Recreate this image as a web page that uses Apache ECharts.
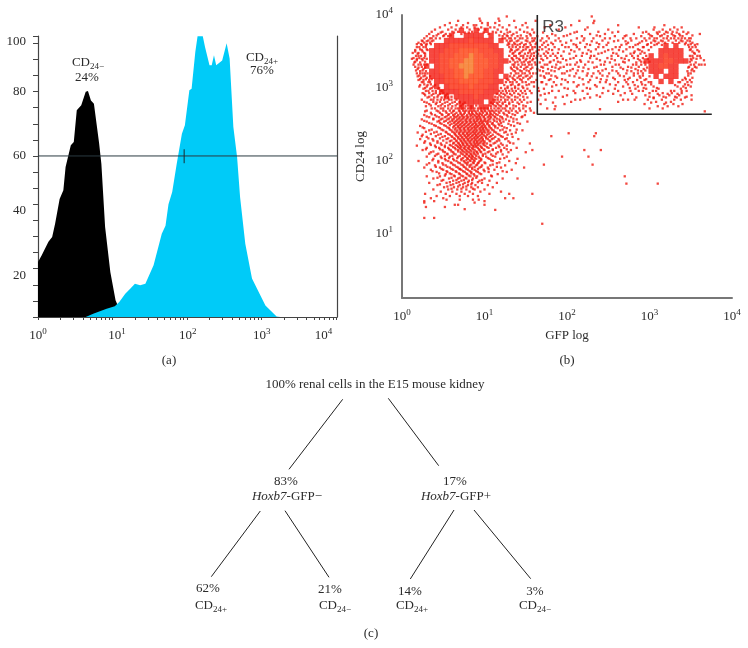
<!DOCTYPE html>
<html><head><meta charset="utf-8">
<style>html,body{margin:0;padding:0;background:#fff}#c{width:748px;height:648px;filter:blur(0.35px)}</style>
<script src="https://cdn.jsdelivr.net/npm/echarts@6/dist/echarts.min.js"></script>
</head><body><div id="c"></div>
<script>
// ---------- Panel (a): histogram, x in log10 decades, y in counts ----------
const yTickLabelsA = [20, 40, 60, 80, 100];
const xDecades = [0, 1, 2, 3, 4];
const negGfpLog = [0,.05,.14,.19,.23,.29,.34,.37,.44,.48,.52,.58,.64,.67,.71,.75,.82,.85,.90,.97,1.04,1.07,1.08];
const negCount = [20.5,23,28,29.8,34.8,44,47.2,55.9,64,65.2,77,78.9,83.9,84.2,80.7,79.5,64.6,57,33.5,16.8,6.2,4.3,0];
const posGfpLog = [.64,.74,.92,1.03,1.09,1.17,1.24,1.30,1.37,1.44,1.55,1.66,1.71,1.75,1.80,1.86,1.93,1.97,2.03,2.06,2.11,2.14,2.21,2.24,2.30,2.33,2.36,2.39,2.47,2.53,2.57,2.62,2.67,2.71,2.78,2.87,2.96,3.05,3.20,3.25];
const posCount = [0,1.2,3.1,4,5.6,8.7,10.6,12.4,11.8,12.4,19.3,31,34,42,46.6,57,68.3,71.4,84.5,85,98.8,104.6,104.6,100.6,93.8,93.8,97.5,93.8,95.6,102,96.3,70.8,59.6,44.7,27.3,14.3,9.3,4.3,.2,0];
const gateCount = 60;
const gateMarker = 1.96;

// ---------- Panel (b): dot plot, log10 decades x100 ----------
const cd24Rows = [398,395,392,389,386,383,380,377,374,371,368,365,362,359,356,353,350,347,344,341,338,335,332,329,326,323,320,317,314,311,308,305,302,299,296,293,290,287,284,281,278,275,272,269,266,263,260,257,254,251,248,245,242,239,236,233,230,227,224,221,218,215,212,209,206,203,200,197,194,191,188,185,182,179,176,173,170,167,164,161,158,155,152,149,147,145,143,140,137,134,133,122,114,238,234,215,206,195,189,179,169,286,284,271,268,277,249];
const gfpRows = [
[127,230],[94,117],[68,95,118,136,162,215,233],[58,80,97,104,113,150,232],
[52,66,74,87,90,104,118,130,146,180,205,262,318],
[46,60,72,79,88,96,107,112,122,138,152,173,198,225,287,306,330,339],
[40,56,65,82,93,101,116,127,143,158,190,222,250,305,316,325,334],
[36,49,61,68,85,110,120,131,148,212,238,262,296,312,320,328,341],
[33,44,53,72,105,124,135,155,182,204,228,246,281,299,310,318,327,336,345,361],
[30,38,50,56,122,128,140,151,164,176,196,218,240,258,270,290,303,313,322,331,340],
[27,34,46,122,130,137,146,158,170,190,212,232,252,268,284,300,309,317,326,335,343,350],
[24,32,38,127,133,141,150,160,168,186,205,220,243,262,278,296,305,314,323,332,338,346],
[20,27,34,129,136,145,155,163,172,181,199,216,236,250,274,288,302,311,319,328,336,344,352],
[24,29,128,134,140,148,156,170,177,194,211,228,248,266,283,297,306,315,347,355],
[18,26,130,138,147,153,161,167,185,202,222,244,264,280,292,348,356],
[22,30,132,141,150,158,170,178,190,215,235,255,272,286,350],
[16,25,131,137,145,155,163,175,196,209,229,246,268,282,291,352,360],
[19,28,134,142,149,157,165,172,183,203,224,238,260,277,289,355],
[17,23,136,144,152,160,168,180,193,218,233,254,272,286,349,358],
[14,21,27,133,139,147,155,163,176,188,208,228,249,266,281,292,353,362],
[18,25,135,143,150,158,171,184,199,216,240,258,275,288,351,366],
[15,22,137,145,153,161,167,179,192,212,231,252,270,284,294,356],
[20,27,134,141,149,157,173,187,204,222,245,263,280,290,350,360,367],
[16,24,136,144,152,169,182,196,214,236,255,274,287,348,355],
[19,26,133,140,148,156,164,177,190,207,226,247,268,283,293,352],
[22,29,137,145,154,171,185,200,219,238,260,278,290,346,354],
[18,25,31,132,141,149,159,175,194,211,232,251,272,286,350],
[21,28,136,144,152,168,181,203,224,243,264,281,292,347],
[23,30,134,140,147,155,173,188,215,236,256,276,289,343,352],
[20,26,33,129,137,145,163,178,198,228,248,270,285,294,340,349],
[24,32,131,139,150,157,169,184,208,240,262,280,299,337,346],
[27,35,134,142,154,175,193,220,252,274,291,302,343],
[21,30,38,128,137,146,160,182,212,236,268,286,305,334,341,350],
[26,34,44,125,133,141,152,172,201,228,258,283,296,311,338],
[29,37,47,122,130,138,149,166,190,219,250,277,292,308,330,345],
[25,33,41,50,120,127,136,146,157,178,210,243,270,300,316,327,339],
[28,36,44,53,118,125,133,143,168,200,236,265,295,312,324,336,351],
[31,39,48,56,116,123,130,140,152,186,228,284,305,320,333,343],
[24,35,43,51,60,113,120,128,137,148,174,216,274,298,315,330,338],
[27,38,46,55,64,70,112,118,125,134,145,156,205,262,308,326],
[33,41,49,58,67,74,110,116,122,130,142,168,197,294,318,329,340],
[29,44,52,61,71,77,84,108,114,120,127,138,150,186,310,322,335],
[36,47,56,65,73,80,88,96,104,112,118,125,135,147,176,300,316],
[30,42,50,58,63,69,74,78,83,87,92,96,100,105,109,114,120,126,133,143,156],
[35,46,54,60,66,71,76,81,85,90,94,98,103,107,112,118,123,130,140,160],
[27,40,49,56,62,68,73,79,84,88,93,97,101,106,110,116,127,137,149],
[33,45,52,59,65,70,75,80,86,91,95,99,104,108,113,121,132,145],
[24,38,47,55,61,67,72,77,82,87,92,96,100,105,111,118,126,139],
[30,43,51,58,64,69,74,79,84,89,94,98,102,107,115,123,135,152],
[36,48,60,66,71,76,81,86,90,95,99,103,109,117,129,143],
[22,41,53,63,68,73,78,83,88,92,97,101,106,113,121,136],
[27,46,57,65,70,75,80,85,89,94,98,102,108,116,127],
[33,50,60,67,72,77,82,87,91,96,100,105,111,119,131,146],
[19,39,54,63,69,74,79,84,88,93,97,101,107,114,124,138],
[25,44,58,65,71,76,81,86,90,95,99,103,110,118,128],
[30,49,61,68,73,78,83,88,92,97,102,106,113,122,134],
[22,37,54,64,70,75,80,85,89,94,98,104,109,117,125,141],
[28,43,58,66,72,77,82,87,91,96,100,107,115,129],
[34,47,62,69,74,79,84,89,93,98,103,111,120,135,155],
[18,40,52,60,67,71,76,81,86,90,95,101,108,117,127],
[30,45,56,64,70,75,80,85,92,97,105,114,124,139],
[25,49,59,68,73,78,83,88,94,100,110,120,132],
[35,52,62,71,76,81,87,91,96,104,116,129,150],
[42,55,65,74,79,84,89,98,108,122],
[30,47,58,68,77,82,86,93,102,113,127],
[38,52,62,72,80,85,90,96,106,119,140],
[20,44,56,66,75,83,88,94,110,130],
[33,49,60,70,78,87,92,101,115,138],
[40,53,64,74,82,90,97,107,125],
[27,46,58,68,77,85,94,104,120,148],
[35,50,62,72,80,88,99,112,133],
[42,55,66,76,84,92,105,127],
[53,60,70,79,87,96,116],
[30,46,64,74,83,91,109],
[38,57,68,78,86,100,122,140],
[48,62,72,81,94,106],
[33,54,66,76,85,97,115],
[43,59,70,80,89,104],
[51,63,74,84,92,110],
[38,56,67,78,88,100],
[47,61,72,82,95,120],
[28,53,66,76,86,106,130,158],
[42,58,70,80,92],
[35,50,135,125],[54,93,86,70],[39,27,100],[27,88],[64,68,100],[29,52],
[76],[113],[27,39],[170],
[202,235],[181,233],[221,241,158],[194,226],[172,231],[70],[270],
[272,310],[221,305],[282,351],[240,185],[367],
];
const cd24RowsMore = [376,372,368,364,360,356,352,348,344,340,336,332,328,324,320,316,312,308,304,300,296,292,288,284,280,276,272,268,264,261,258,255,252,249,246,243,240,237,234,231,228,225,222,219,216,213,210,207,204,201,198,195,192,189,186,183,180,177,174,171,168,165,162];
const gfpRowsMore = [
[47,63,76,81,99,114,128,139,152,160,171,209,255,292,309,322,333,347],
[42,51,59,118,127,133,144,156,186,200,236,272,301,315,329,337,352],
[36,41,125,132,143,152,161,178,221,246,277,294,306,321,330,339,348],
[25,30,36,131,139,152,158,175,192,230,257,271,291,307,316,340,349],
[18,23,30,35,130,137,143,150,162,183,208,224,239,272,286,298,309,343,350,358],
[21,29,134,143,151,158,174,198,212,238,259,276,293,302,352],
[16,24,31,133,139,147,155,166,182,205,226,250,263,288,299,349,358],
[13,20,27,135,143,153,160,177,189,219,242,256,281,294,354],
[20,28,130,138,147,156,164,174,186,211,229,262,279,296,352,361],
[12,18,24,30,134,142,151,159,169,195,204,236,254,270,286,298,350,357],
[16,28,131,140,148,155,180,189,217,226,246,268,290,300,349],
[14,23,30,136,146,154,162,176,200,210,241,259,284,295,354,363],
[20,28,132,139,150,158,171,186,192,220,233,265,278,297,347,357],
[17,25,135,143,151,167,181,204,213,243,255,273,286,295,351],
[22,28,138,146,155,163,178,197,225,240,262,281,292,347],
[19,26,34,131,142,150,157,172,186,209,230,249,269,288,300],
[22,29,36,127,135,143,153,180,194,219,241,258,274,296,344],
[26,34,126,134,146,160,170,201,226,247,272,290,302,335,351],
[22,31,40,124,132,141,151,187,214,234,259,282,295,331,347],
[28,36,45,120,128,137,147,165,197,224,244,276,293,309,344],
[32,41,49,118,126,134,144,155,182,208,262,287,304,326,339],
[27,38,46,55,115,123,131,141,150,173,225,256,279,310,322,334],
[33,43,52,60,113,120,128,137,147,195,240,300,317,331,345],
[38,47,57,66,111,116,125,133,143,165,210,268],
[30,42,52,61,70,76,108,115,122,130,140,152,183,302,320],
[35,47,56,65,72,80,90,106,112,118,126,135,147],
[40,50,60,68,76,84,92,100,108,116,122,131,142,155],
[28,44,53,62,70,76,81,85,89,97,101,107,111,117,129,138,150],
[36,48,57,64,71,75,82,86,91,95,103,108,114,124,134],
[30,42,54,63,67,73,78,83,89,93,99,106,112,119,128,146],
[38,49,57,63,69,74,79,84,90,94,101,107,115,122,135],
[27,45,53,61,66,71,77,82,87,91,96,100,104,112,119,130],
[33,46,56,63,68,73,78,83,88,93,97,104,110,120,140],
[39,51,58,65,70,75,80,85,90,94,99,105,111,118,132],
[25,44,55,62,68,72,77,82,87,91,96,100,106,113,124],
[36,48,58,64,70,75,80,84,89,94,98,103,109,122,139],
[29,42,53,61,66,71,76,81,86,90,95,99,104,112,126],
[35,47,56,64,69,74,79,83,88,92,97,105,116,133],
[24,41,52,60,66,71,76,80,85,90,94,100,108,120],
[32,46,56,63,68,73,78,82,87,91,96,102,111,127],
[38,50,60,66,71,75,80,84,89,93,98,106,118],
[27,43,54,63,68,73,77,82,87,91,95,100,113,131],
[35,48,58,65,70,74,79,84,88,92,99,107,122],
[41,52,62,68,72,77,82,87,90,96,103,118],
[29,46,57,65,71,76,81,86,93,99,110,127],
[38,50,60,68,74,79,84,90,95,106,120],
[33,44,55,63,72,78,83,87,92,101,114],
[40,52,61,70,76,81,85,90,98,110],
[48,57,67,74,79,84,88,94,104,124],
[37,53,63,72,78,82,87,96,108],
[44,59,68,76,80,86,93,100,118],
[30,50,62,72,79,84,91,110],
[41,55,66,75,82,88,96,115],
[48,60,70,78,85,92,105],
[37,54,65,74,82,90,100,122],
[45,58,69,78,84,94],
[52,63,72,81,88,108],
[43,60,70,77,90],
[50,66,75,85,97],
[58,69,80,92],
[46,62,74,84],
[55,68,78],
[60,72,86],
];

// Dense cores of panel (b): shading level per cell, 0 = no cell
const coreGfp = [30,36,42,48,54,60,66,72,78,84,90,96,102,108,114,120,126];
const coreCd24 = [379,372,365,358,351,344,337,330,323,316,309,302,295,288,281,274];
const coreLevels = [
[0,0,0,0,0,0,0,1,0,0,1,0,1,0,0,0,0],
[0,0,0,0,0,1,0,0,1,1,1,1,0,1,0,0,0],
[0,0,0,0,1,1,1,1,1,2,1,1,1,1,0,1,0],
[0,0,1,1,1,2,2,2,2,2,2,2,2,1,1,0,0],
[0,1,1,1,2,2,2,3,3,3,3,2,2,2,1,1,0],
[0,1,1,2,2,2,3,3,3,4,3,3,2,2,2,1,0],
[0,1,1,2,2,3,3,3,4,4,3,3,3,2,2,1,1],
[1,0,1,2,2,3,3,4,4,4,3,3,3,2,2,1,0],
[0,1,1,2,2,2,3,3,4,4,3,3,2,2,1,1,0],
[0,1,1,1,2,2,3,3,4,3,3,3,2,2,1,0,1],
[0,0,1,1,2,2,2,3,3,3,3,2,2,2,1,1,0],
[0,0,1,0,1,2,2,2,2,3,2,2,2,1,1,0,0],
[0,0,0,1,1,1,1,2,2,2,2,2,1,1,1,0,0],
[0,0,0,0,1,0,1,1,1,1,2,1,1,1,0,0,0],
[0,0,0,0,0,0,0,1,1,1,1,1,0,1,0,0,0],
[0,0,0,0,0,0,0,1,0,1,0,1,1,0,0,0,0],
];
const clusterGfp = [296,302,308,314,320,326,332,338,344];
const clusterCd24 = [358,351,344,337,330,323,316,309];
const clusterLevels = [
[0,0,0,0,1,0,1,0,0],
[0,0,0,1,1,1,1,1,0],
[0,1,0,1,2,1,1,1,0],
[1,1,1,1,2,2,1,1,1],
[0,1,1,2,2,1,1,0,0],
[0,1,1,1,0,1,1,0,0],
[0,0,1,0,1,1,1,0,0],
[0,0,0,1,0,1,0,0,0],
];
const gateGfp = [1.64, 1.64, 3.755];
const gateCd24 = [4, 2.64, 2.64];
const gateName = 'R3';

// ---------- Panel (c): tree ----------
const rootLabel = '100% renal cells in the E15 mouse kidney';
const gfpPercents = ['83%', '17%'];
const leafPercents = ['62%', '21%', '14%', '3%'];
const panelNames = ['(a)', '(b)', '(c)'];

// ---------- drawing ----------
const SERIF = '"Liberation Serif", serif';
const ink = '#2b2b2b';
const pair = (xs, ys) => xs.map((x, i) => [x, ys[i]]);
const dots = [];
cd24Rows.forEach((y, r) => (gfpRows[r] || []).forEach(x => dots.push([x / 100, y / 100])));
cd24RowsMore.forEach((y, r) => gfpRowsMore[r].forEach(x => dots.push([x / 100, y / 100])));
const cellData = (xs, ys, lv) => {
  const out = [];
  ys.forEach((y, r) => xs.forEach((x, c) => { if (lv[r][c]) out.push([x / 100, y / 100, lv[r][c]]); }));
  return out;
};
const cells = cellData(coreGfp, coreCd24, coreLevels).concat(cellData(clusterGfp, clusterCd24, clusterLevels));
const cellColors = ['', '#f41a10', '#fa2a0e', '#fc3d0e', '#f5701a'];
const powLabel = v => '{b|10}{s|' + Math.round(v) + '}';
const powRich = {
  b: { fontFamily: SERIF, fontSize: 13, color: ink, lineHeight: 18 },
  s: { fontFamily: SERIF, fontSize: 9, color: ink, verticalAlign: 'top', lineHeight: 18, padding: [0, 0, 5, 0] }
};
const minorA = [];
xDecades.slice(0, 4).forEach(d => { for (let k = 1; k < 10; k++) minorA.push(d + Math.log10(k)); });
minorA.push(4);

const cdRich = {
  a: { fontFamily: SERIF, fontSize: 13, fill: ink, lineHeight: 16 },
  i: { fontFamily: SERIF, fontSize: 13, fill: ink, fontStyle: 'italic', lineHeight: 16 },
  u: { fontFamily: SERIF, fontSize: 9, fill: ink, verticalAlign: 'bottom', lineHeight: 16, padding: [6, 0, 0, 0] }
};
const T = (x, y, text, rich) => ({
  type: 'text', x, y, silent: true,
  style: { text, x: 0, y: 0, align: 'center', verticalAlign: 'middle', fontFamily: SERIF, fontSize: 13, fill: ink, rich: rich ? cdRich : undefined }
});
const L = (x1, y1, x2, y2) => ({ type: 'line', silent: true, shape: { x1, y1, x2, y2 }, style: { stroke: '#222', lineWidth: 1 } });
const cdPlus = '{a|CD}{u|24+}', cdMinus = '{a|CD}{u|24\u2212}';

const graphic = [
  T(88, 63, cdMinus, true), T(87, 78, '24%'), T(262, 58, cdPlus, true), T(262, 71, '76%'),
  T(169, 361, panelNames[0]), T(567, 361, panelNames[1]), T(371, 634, panelNames[2]),
  T(375, 385, rootLabel),
  L(342.7, 399.3, 289, 469.3), L(388.3, 398.3, 438.7, 465.7),
  L(260.3, 511, 211.3, 576.7), L(285, 510.7, 329, 577.3),
  L(454, 510, 410.3, 579), L(474, 510, 530.7, 578.7),
  T(286, 482, gfpPercents[0]), T(287, 497, '{i|Hoxb7}{a|-GFP\u2212}', true),
  T(455, 482, gfpPercents[1]), T(456, 497, '{i|Hoxb7}{a|-GFP+}', true),
  T(208, 589, leafPercents[0]), T(211, 606, cdPlus, true),
  T(330, 590, leafPercents[1]), T(335, 606, cdMinus, true),
  T(410, 592, leafPercents[2]), T(412, 606, cdPlus, true),
  T(535, 592, leafPercents[3]), T(535, 606, cdMinus, true)
];

const labelPosA = [15.3, 39.5, 60, 83.9, 102.8];
const labelPosX = [0, 1.06, 2.01, 3, 3.83];
const option = {
  animation: false,
  backgroundColor: '#fff',
  graphic,
  grid: [
    { left: 38, top: 36, width: 299, height: 281 },
    { left: 402, top: 15, width: 330, height: 283 }
  ],
  xAxis: [
    { type: 'value', gridIndex: 0, min: 0, max: 4.01, splitLine: { show: false },
      axisLine: { lineStyle: { color: '#444', width: 1.2 } },
      axisTick: { customValues: minorA, length: 3, lineStyle: { color: '#444' } },
      axisLabel: { customValues: labelPosX, margin: 10, formatter: powLabel, rich: powRich, showMinLabel: true, showMaxLabel: true, hideOverlap: false } },
    { type: 'value', gridIndex: 1, min: 0, max: 4, splitLine: { show: false },
      name: 'GFP log', nameLocation: 'middle', nameGap: 31,
      nameTextStyle: { fontFamily: SERIF, fontSize: 13, color: ink },
      axisLine: { lineStyle: { color: '#777', width: 2 } }, axisTick: { show: false },
      axisLabel: { customValues: xDecades, margin: 10, formatter: powLabel, rich: powRich, showMinLabel: true, showMaxLabel: true } }
  ],
  yAxis: [
    { type: 'value', gridIndex: 0, min: 0, max: 104.7, interval: 6, splitLine: { show: false },
      axisLine: { show: true, lineStyle: { color: '#444', width: 1.2 } },
      axisTick: { show: true, length: 5, lineStyle: { color: '#444' } },
      axisLabel: { customValues: labelPosA, margin: 12, fontFamily: SERIF, fontSize: 13, color: ink,
        formatter: v => yTickLabelsA[labelPosA.indexOf(v)] } },
    { type: 'value', gridIndex: 0, position: 'right', min: 0, max: 104.7, splitLine: { show: false },
      axisLine: { show: true, lineStyle: { color: '#444', width: 1.2 } }, axisTick: { show: false }, axisLabel: { show: false } },
    { type: 'value', gridIndex: 1, min: 0.123, max: 4, splitLine: { show: false },
      name: 'CD24 log', nameLocation: 'middle', nameGap: 35, nameRotate: 90,
      nameTextStyle: { fontFamily: SERIF, fontSize: 13, color: ink },
      axisLine: { show: true, lineStyle: { color: '#777', width: 2 } }, axisTick: { show: false },
      axisLabel: { customValues: [1, 2, 3, 4], margin: 9, formatter: powLabel, rich: powRich, showMaxLabel: true } }
  ],
  series: [
    { type: 'line', name: 'CD24-', xAxisIndex: 0, yAxisIndex: 0, data: pair(negGfpLog, negCount), symbol: 'none',
      lineStyle: { width: 0 }, areaStyle: { color: '#000', opacity: 1 }, z: 2 },
    { type: 'line', name: 'CD24+', xAxisIndex: 0, yAxisIndex: 0, data: pair(posGfpLog, posCount), symbol: 'none',
      lineStyle: { width: 0 }, areaStyle: { color: '#00cbf8', opacity: 1 }, z: 3 },
    { type: 'line', name: 'marker', xAxisIndex: 0, yAxisIndex: 0, data: [[0, gateCount], [4.01, gateCount]], symbol: 'none',
      lineStyle: { color: '#2a3a40', width: 1 }, z: 4 },
    { type: 'line', name: 'markerTick', xAxisIndex: 0, yAxisIndex: 0, data: [[gateMarker, gateCount - 2.7], [gateMarker, gateCount + 2.5]], symbol: 'none',
      lineStyle: { color: '#1a2a30', width: 1 }, z: 4 },
    { type: 'scatter', name: 'dots', xAxisIndex: 1, yAxisIndex: 2, data: dots, symbol: 'rect', symbolSize: 2.3,
      itemStyle: { color: '#f01a10' }, z: 3 },
    { type: 'scatter', name: 'cells', xAxisIndex: 1, yAxisIndex: 2, data: cells, symbol: 'rect', symbolSize: 5.4,
      itemStyle: { color: p => cellColors[p.value[2]] }, z: 2 },
    { type: 'line', name: 'gate', xAxisIndex: 1, yAxisIndex: 2, data: pair(gateGfp, gateCd24), symbol: 'none',
      lineStyle: { color: '#222', width: 1.6 }, z: 5 },
    { type: 'scatter', name: 'gateLabel', xAxisIndex: 1, yAxisIndex: 2, data: [[1.64, 3.83]], symbolSize: 0, z: 6,
      label: { show: true, position: 'right', distance: 5, formatter: gateName, fontFamily: '"Liberation Sans", sans-serif', fontSize: 17, color: '#222' } }
  ]
};
const chart = echarts.init(document.getElementById('c'), null, { renderer: 'canvas' });
chart.setOption(option);
</script></body></html>
